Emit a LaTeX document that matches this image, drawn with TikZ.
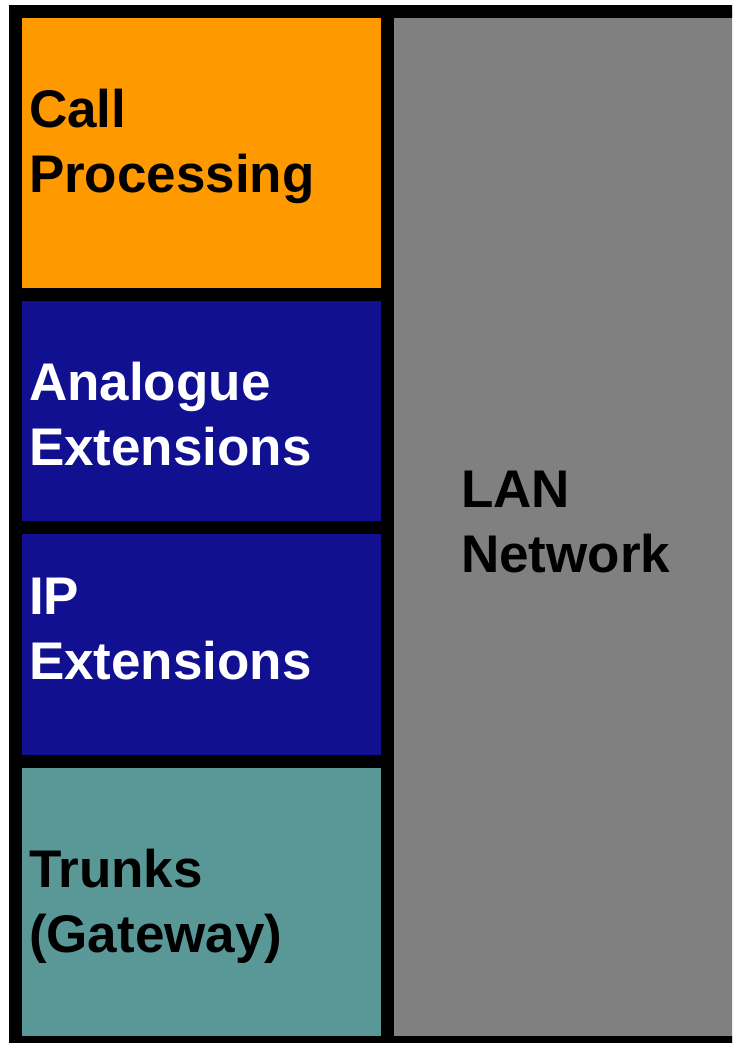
\documentclass[tikz,border=0pt]{standalone}
\usepackage{fontspec}
\setmainfont{Liberation Sans}
\usepackage{tikz}
\usetikzlibrary{calc}
\definecolor{callorange}{RGB}{255,153,0}
\definecolor{extblue}{RGB}{16,16,144}
\definecolor{trunkteal}{RGB}{90,152,152}
\definecolor{langray}{RGB}{128,128,128}
\tikzset{
	every node/.style={draw=none,rectangle,outer sep=0pt,inner sep=0pt},
	block/.style={draw=black,line width=13pt,anchor=north west,minimum width=372.5pt},
	blocktext/.style={anchor=base west,align=left,text width=340pt,font=\fontsize{53}{65}\selectfont\bfseries}
	}

\begin{document}
\begin{tikzpicture}[x=1pt,y=-1pt]
		\clip (0,0) rectangle (732,1043);
		\fill[white] (0,0) rectangle (732,1043);
		% the LAN side, cut off on the right
		\node[block,fill=langray,minimum width=400pt,minimum height=1031pt] (lan) at (387.5,11.5) {};
		% the stack on the left
		\node[block,fill=callorange,minimum height=283pt] (cp) at (15,11.5) {};
		\node[block,fill=extblue,minimum height=233pt] (ana) at (15,294.5) {};
		\node[block,fill=extblue,minimum height=234pt] (ip) at (15,527.5) {};
		\node[block,fill=trunkteal,minimum height=281pt] (trk) at (15,761.5) {};
		% labels
		\node[blocktext] (cptext) at (29,128) {Call\\Processing};
		\node[blocktext,text=white] (anatext) at (29,400) {Analogue\\Extensions};
		\node[blocktext,text=white] (iptext) at (29,614) {IP\\Extensions};
		\node[blocktext] (trktext) at (29,887) {Trunks\\(Gateway)};
		\node[blocktext,text width=260pt] (lantext) at (461,507) {LAN\\Network};
\end{tikzpicture}
\end{document}
